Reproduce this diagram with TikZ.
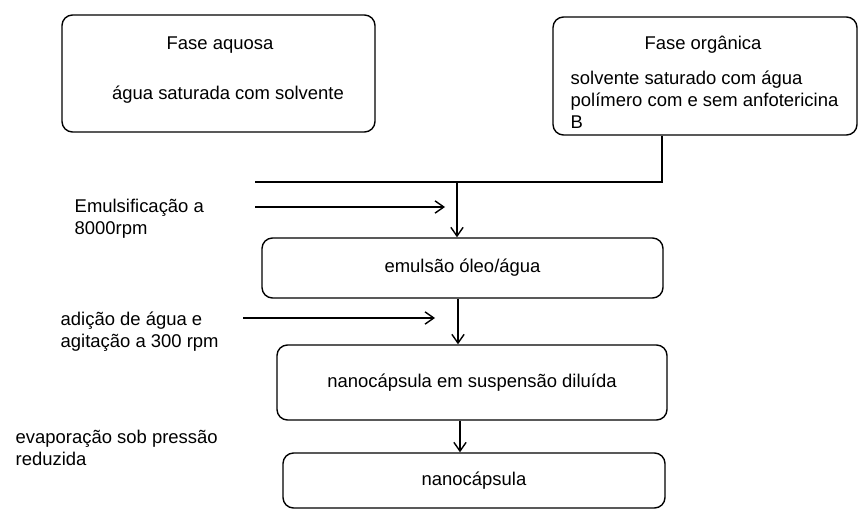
\documentclass[tikz,border=0pt]{standalone}
\usepackage{fontspec}
\setmainfont{Liberation Sans}
\usepackage{tikz}
\usetikzlibrary{arrows.meta}
\usetikzlibrary{positioning}
\tikzstyle{etapa}=[draw,rounded corners=6pt,thick,inner sep=0pt]
\tikzstyle{rotulo}=[align=left,anchor=west,inner sep=0pt]

\begin{document}
\begin{tikzpicture}[x=0.02cm,y=-0.02cm,thick,>={Straight Barb[length=5pt,width=7pt]},
  every node/.style={font=\fontsize{10.5}{12.6}\selectfont}]
\tikzstyle{etapa}=[draw,rounded corners=6pt,thick,inner sep=0pt]
\useasboundingbox (0,0) rectangle (861,513);
% caixas
\node [etapa,minimum width=313*0.02cm,minimum height=117*0.02cm] (aquosa) at (218.5,73.5) {};
\node (taquosa) at (220,45) {Fase aquosa};
\node (agua) at (228,95) {água saturada com solvente};
\node [etapa,minimum width=304*0.02cm,minimum height=118*0.02cm] (organica) at (705,76) {};
\node (torganica) at (703,45) {Fase orgânica};
\node [rotulo,anchor=north west,font=\fontsize{10.5}{12.5}\selectfont] (solvente) at (570,70)
  {solvente saturado com água\\polímero com e sem anfotericina\\B};
\node [etapa,minimum width=401*0.02cm,minimum height=60*0.02cm] (emulsao) at (462.5,268) {emulsão óleo/água};
\node [etapa,minimum width=390*0.02cm,minimum height=75*0.02cm] (suspensao) at (472,382.5) {nanocápsula em suspensão diluída};
\node [etapa,minimum width=382*0.02cm,minimum height=55*0.02cm] (nanocapsula) at (474,480.5) {nanocápsula};
% rotulos
\node [rotulo] (emulsif) at (74,219) {Emulsificação a\\8000rpm};
\node [rotulo] (adicao) at (60,332) {adição de água e\\agitação a 300 rpm};
\node [rotulo] (evapora) at (15,448) {evaporação sob pressão\\reduzida};
% ligacoes
\coordinate (canto) at (662,182);
\coordinate (juncao) at (457,182);
\coordinate (inicio) at (255,182);
\draw (organica.south -| canto) -- (canto) -- (inicio);
\draw [->] (juncao) -- (emulsao.north -| juncao);
\coordinate (e1) at (255,207);
\coordinate (e2) at (445,207);
\draw [->] (e1) -- (e2);
\draw [->] (emulsao.south -| 458,0) -- (suspensao.north -| 458,0);
\coordinate (a1) at (243,318);
\coordinate (a2) at (435,318);
\draw [->] (a1) -- (a2);
\draw [->] (suspensao.south -| 460,0) -- (nanocapsula.north -| 460,0);
\end{tikzpicture}
\end{document}
